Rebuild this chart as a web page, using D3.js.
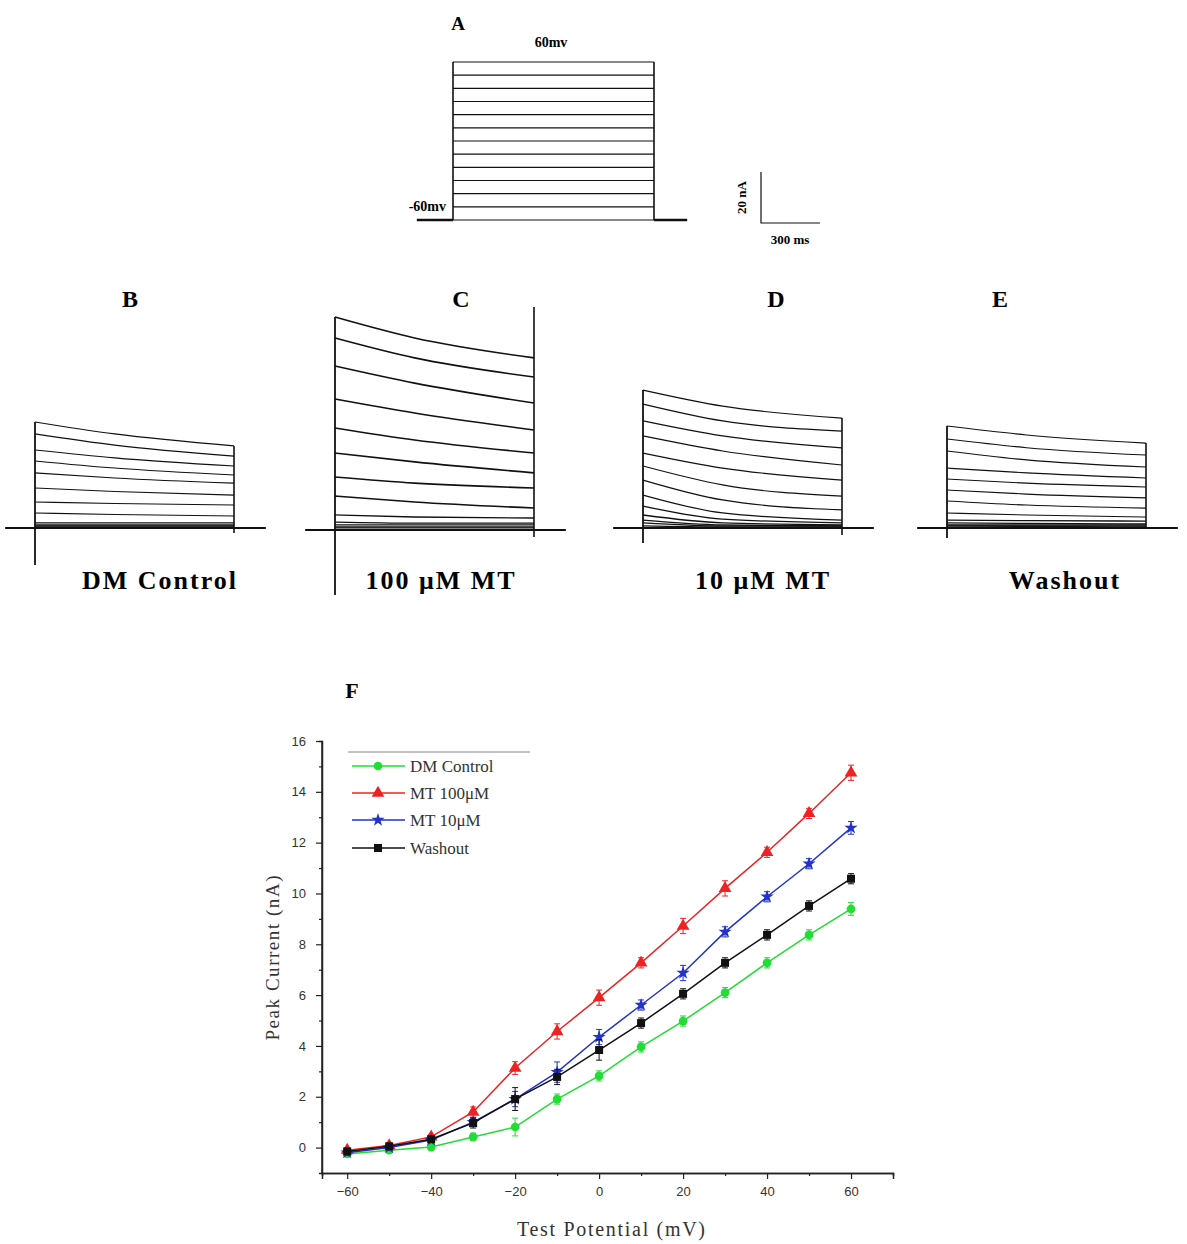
<!DOCTYPE html>
<html><head><meta charset="utf-8">
<script src="https://cdn.jsdelivr.net/npm/d3@7"></script>
<style>body{margin:0;background:#fff}</style>
</head><body><svg id="c" width="1187" height="1244"></svg>
<script>
// ---------------- DATA ----------------
// Panel A: voltage steps (mV)
const stepLevels = [-60,-50,-40,-30,-20,-10,0,10,20,30,40,50,60];
const stepDuration = 1000;      // ms
const holdPre = -180, holdPost = 1165; // ms

// Panels B-E: current traces (nA) at times traceTimes (ms)
const traceTimes = [0, 400, 1000];
const bPeak = [41.6,36.9,30.6,26.3,21.6,15.7,10.2,5.9,2.0,1.2,0.8,0.4,0.0];
const bMid  = [36.9,32.5,27.5,23.5,19.6,14.3,9.6,5.3,2.0,1.2,0.8,0.4,0.0];
const bEnd  = [32.2,28.2,24.3,20.8,17.6,12.9,9.0,4.7,2.0,1.2,0.8,0.4,0.0];
const cPeak = [83.5,75.3,64.3,51.4,40.0,30.2,20.8,13.3,5.9,3.1,2.0,1.2,0.8];
const cMid  = [75.3,67.5,57.6,45.9,35.3,26.7,18.4,11.0,5.1,2.7,2.0,1.2,0.8];
const cEnd  = [67.5,60.0,49.8,39.2,30.2,22.4,16.5,8.6,4.7,2.7,2.0,1.2,0.8];
const dPeak = [54.1,48.6,42.0,36.1,29.4,24.3,18.8,12.9,8.6,5.1,3.1,2.0,0.8];
const dMid  = [47.8,42.0,36.1,30.2,23.5,16.9,11.0,5.9,3.5,2.0,1.2,0.8,0.4];
const dEnd  = [43.1,38.0,31.4,24.7,18.8,12.5,7.1,3.1,2.0,1.2,0.8,0.8,0.4];
const ePeak = [40.0,34.9,30.2,23.5,19.2,14.9,10.6,5.9,3.1,2.0,1.2,0.8,0.8];
const eMid  = [36.5,31.5,26.7,21.6,17.6,13.3,9.0,5.1,2.9,1.8,1.2,0.8,0.6];
const eEnd  = [33.3,28.6,23.9,19.6,16.1,11.8,7.8,4.3,2.7,1.6,1.2,0.8,0.4];
const spikeDown = [14.5, 25.5, 5.9, 3.9];   // capacitive transient at onset (nA below 0)
const tailDown  = [2.0, 2.7, 2.7, 0.0];     // transient at offset
const tailUp    = [null, 87.5, null, null]; // offset spike upward (panel C)
const panelTitles = ["B","C","D","E"];
const panelNames = ["DM Control","100 μM MT","10 μM MT","Washout"];

// Panel F: I-V curves
const testPotential = [-60,-50,-40,-30,-20,-10,0,10,20,30,40,50,60];
const dmControl = [-0.25,-0.1,0.02,0.42,0.81,1.91,2.82,3.96,4.98,6.1,7.27,8.37,9.39];
const mt100     = [-0.1,0.08,0.42,1.4,3.13,4.57,5.9,7.27,8.72,10.2,11.62,13.15,14.75];
const mt10      = [-0.2,0.0,0.3,1.0,1.91,2.97,4.35,5.61,6.87,8.49,9.87,11.17,12.58];
const washout   = [-0.15,0.05,0.33,0.97,1.91,2.78,3.84,4.9,6.05,7.27,8.37,9.51,10.58];
const errDm     = [0.1,0.1,0.1,0.15,0.35,0.2,0.2,0.2,0.2,0.2,0.2,0.2,0.25];
const err100    = [0.1,0.1,0.1,0.2,0.25,0.3,0.3,0.2,0.3,0.3,0.2,0.2,0.3];
const err10     = [0.1,0.1,0.1,0.15,0.3,0.4,0.3,0.2,0.3,0.2,0.2,0.2,0.25];
const errWash   = [0.1,0.1,0.1,0.2,0.45,0.3,0.4,0.2,0.2,0.2,0.2,0.2,0.2];
const seriesNames = ["DM Control","MT 100μM","MT 10μM","Washout"];
const seriesColors = ["#22dd33","#ee2222","#2233cc","#111111"];
const yTicks = [0,2,4,6,8,10,12,14,16];
const xTicks = [-60,-40,-20,0,20,40,60];

// ---------------- DRAW ----------------
const svg = d3.select("#c");
const serif = "'Liberation Serif','Times New Roman',serif";
const sans = "'Liberation Sans',Arial,sans-serif";

// ---- Panel A ----
const aX = d3.scaleLinear().domain([0, stepDuration]).range([453, 654]);
const aY = d3.scaleLinear().domain([-60, 60]).range([220, 62]);
const gA = svg.append("g");
gA.selectAll("line.lv").data(stepLevels).join("line").attr("class","lv")
  .attr("x1", aX(0)).attr("x2", aX(stepDuration))
  .attr("y1", d => aY(d)).attr("y2", d => aY(d))
  .attr("stroke", "#111").attr("stroke-width", 1.2);
[0, stepDuration].forEach(t => gA.append("line")
  .attr("x1", aX(t)).attr("x2", aX(t)).attr("y1", aY(-60)).attr("y2", aY(60))
  .attr("stroke", "#111").attr("stroke-width", 1.6));
gA.append("line").attr("x1", aX(holdPre)).attr("x2", aX(0)).attr("y1", aY(-60)).attr("y2", aY(-60))
  .attr("stroke", "#111").attr("stroke-width", 2.6);
gA.append("line").attr("x1", aX(stepDuration)).attr("x2", aX(holdPost)).attr("y1", aY(-60)).attr("y2", aY(-60))
  .attr("stroke", "#111").attr("stroke-width", 2.6);
gA.append("text").attr("x", 458).attr("y", 30).text("A")
  .attr("font-family", serif).attr("font-weight", "bold").attr("font-size", 19).attr("text-anchor","middle");
gA.append("text").attr("x", 551).attr("y", 47).text("60mv")
  .attr("font-family", serif).attr("font-weight", "bold").attr("font-size", 14).attr("text-anchor","middle");
gA.append("text").attr("x", 446).attr("y", 211).text("-60mv")
  .attr("font-family", serif).attr("font-weight", "bold").attr("font-size", 14).attr("text-anchor","end");

// scale bar
const sbX = d3.scaleLinear().domain([0, 300]).range([761, 820]);
const sbY = d3.scaleLinear().domain([0, 20]).range([223, 172]);
gA.append("path").attr("d", `M${sbX(0)},${sbY(20)}V${sbY(0)}H${sbX(300)}`)
  .attr("fill","none").attr("stroke","#111").attr("stroke-width",1.2);
gA.append("text").attr("transform", `translate(746,${sbY(10)}) rotate(-90)`).text("20 nA")
  .attr("font-family", serif).attr("font-weight","bold").attr("font-size", 13).attr("text-anchor","middle");
gA.append("text").attr("x", 790).attr("y", 244).text("300 ms")
  .attr("font-family", serif).attr("font-weight","bold").attr("font-size", 13).attr("text-anchor","middle");

// ---- Panels B-E ----
const panelX0 = [35, 335, 643, 947];
const panelBase = [528, 530, 528, 528];
const panelTitleX = [130, 461, 776, 1000];
const panelNameX = [160, 441, 763, 1065];
const traceSets = [[bPeak,bMid,bEnd],[cPeak,cMid,cEnd],[dPeak,dMid,dEnd],[ePeak,eMid,eEnd]];
const traceWidth = [1.1, 1.6, 1.2, 1.1];

traceSets.forEach((set, p) => {
  const g = svg.append("g");
  const tx = d3.scaleLinear().domain([0, 1000]).range([panelX0[p], panelX0[p] + 199]);
  const ty = d3.scaleLinear().domain([0, 20]).range([panelBase[p], panelBase[p] - 51]);
  const traces = set[0].map((_, i) => traceTimes.map((t, k) => [t, set[k][i]]));
  const line = d3.line().x(d => tx(d[0])).y(d => ty(d[1])).curve(d3.curveMonotoneX);
  g.selectAll("path.tr").data(traces).join("path").attr("class","tr")
    .attr("d", line).attr("fill","none").attr("stroke","#111")
    .attr("stroke-width", (d,i) => i >= 8 ? 1.3 : traceWidth[p]);
  g.append("line").attr("x1", tx(-150)).attr("x2", tx(1160)).attr("y1", ty(0)).attr("y2", ty(0))
    .attr("stroke","#111").attr("stroke-width", 2.2);
  g.append("line").attr("x1", tx(0)).attr("x2", tx(0)).attr("y1", ty(set[0][0])).attr("y2", ty(-spikeDown[p]))
    .attr("stroke","#111").attr("stroke-width", 1.8);
  const topEnd = tailUp[p] != null ? tailUp[p] : set[2][0];
  g.append("line").attr("x1", tx(1000)).attr("x2", tx(1000)).attr("y1", ty(topEnd)).attr("y2", ty(-tailDown[p]))
    .attr("stroke","#111").attr("stroke-width", 1.6);
  g.append("text").attr("x", panelTitleX[p]).attr("y", 307).text(panelTitles[p])
    .attr("font-family", serif).attr("font-weight","bold").attr("font-size", 24).attr("text-anchor","middle");
  g.append("text").attr("x", panelNameX[p]).attr("y", 589).text(panelNames[p])
    .attr("font-family", serif).attr("font-weight","bold").attr("font-size", 26)
    .attr("letter-spacing", 2).attr("text-anchor","middle");
});

// ---- Panel F ----
const fx = d3.scaleLinear().domain([-66, 70]).range([322, 893]);
const fy = d3.scaleLinear().domain([-1, 16]).range([1173, 741]);
const gF = svg.append("g");
gF.append("text").attr("x", 352).attr("y", 698).text("F")
  .attr("font-family", serif).attr("font-weight","bold").attr("font-size", 22).attr("text-anchor","middle");

const yAxis = d3.axisLeft(fy).tickValues(yTicks).tickSize(6).tickPadding(10).tickFormat(d3.format("d"));
const yMinor = d3.axisLeft(fy).tickValues([1,3,5,7,9,11,13,15]).tickSize(3).tickFormat("");
const xAxis = d3.axisBottom(fx).tickValues(xTicks).tickSize(6).tickPadding(8).tickFormat(d3.format("d"));
const xMinor = d3.axisBottom(fx).tickValues([-50,-30,-10,10,30,50]).tickSize(3).tickFormat("");
const gy = gF.append("g").attr("transform", `translate(${fx(-66)},0)`).call(yAxis);
gF.append("g").attr("transform", `translate(${fx(-66)},0)`).call(yMinor);
const gx = gF.append("g").attr("transform", `translate(0,${fy(-1)})`).call(xAxis);
gF.append("g").attr("transform", `translate(0,${fy(-1)})`).call(xMinor);
gF.selectAll(".domain").attr("stroke","#222").attr("stroke-width",1.5);
gF.selectAll(".tick line").attr("stroke","#222").attr("stroke-width",1.2);
gF.selectAll(".tick text").attr("font-family", sans).attr("font-size", 13).attr("fill","#333");
gy.select(".domain").attr("d", `M-0,${fy(16)}V${fy(-1)}`);

gF.append("text").attr("transform", `translate(279,958) rotate(-90)`).text("Peak Current (nA)")
  .attr("font-family", serif).attr("font-size", 19).attr("fill","#333").attr("text-anchor","middle")
  .attr("textLength", 165).attr("lengthAdjust","spacing");
gF.append("text").attr("x", 611).attr("y", 1236).text("Test Potential (mV)")
  .attr("font-family", serif).attr("font-size", 20).attr("fill","#333").attr("text-anchor","middle")
  .attr("textLength", 188).attr("lengthAdjust","spacing");

const series = [dmControl, mt100, mt10, washout];
const errs = [errDm, err100, err10, errWash];
const symbols = [d3.symbolCircle, d3.symbolTriangle, d3.symbolStar, d3.symbolSquare];
const symSize = [60, 70, 55, 64];
const lineGen = d3.line().x(d => fx(d[0])).y(d => fy(d[1]));
[0, 1, 2, 3].forEach(s => {
  const pts = testPotential.map((v, i) => [v, series[s][i], errs[s][i]]);
  const g = gF.append("g");
  g.append("path").attr("d", lineGen(pts)).attr("fill","none")
    .attr("stroke", seriesColors[s]).attr("stroke-width", 1.5);
  g.selectAll("path.eb").data(pts).join("path").attr("class","eb")
    .attr("d", d => `M${fx(d[0])},${fy(d[1]-d[2])}V${fy(d[1]+d[2])}M${fx(d[0])-3},${fy(d[1]+d[2])}h6M${fx(d[0])-3},${fy(d[1]-d[2])}h6`)
    .attr("stroke", seriesColors[s]).attr("stroke-width", 1).attr("fill","none");
  g.selectAll("path.mk").data(pts).join("path").attr("class","mk")
    .attr("d", d3.symbol().type(symbols[s]).size(symSize[s]))
    .attr("transform", d => `translate(${fx(d[0])},${fy(d[1])})`)
    .attr("fill", seriesColors[s]);
});

const gL = gF.append("g");
gL.append("line").attr("x1", 348).attr("x2", 530).attr("y1", 752).attr("y2", 752)
  .attr("stroke", "#888").attr("stroke-width", 1);
const legY = [766, 793, 820, 848];
seriesNames.forEach((n, s) => {
  gL.append("line").attr("x1", 352).attr("x2", 405).attr("y1", legY[s]).attr("y2", legY[s])
    .attr("stroke", seriesColors[s]).attr("stroke-width", 1.5);
  gL.append("path").attr("d", d3.symbol().type(symbols[s]).size(symSize[s]))
    .attr("transform", `translate(378,${legY[s]})`).attr("fill", seriesColors[s]);
  gL.append("text").attr("x", 410).attr("y", legY[s] + 6).text(n)
    .attr("font-family", serif).attr("font-size", 17).attr("fill","#333");
});
</script></body></html>
